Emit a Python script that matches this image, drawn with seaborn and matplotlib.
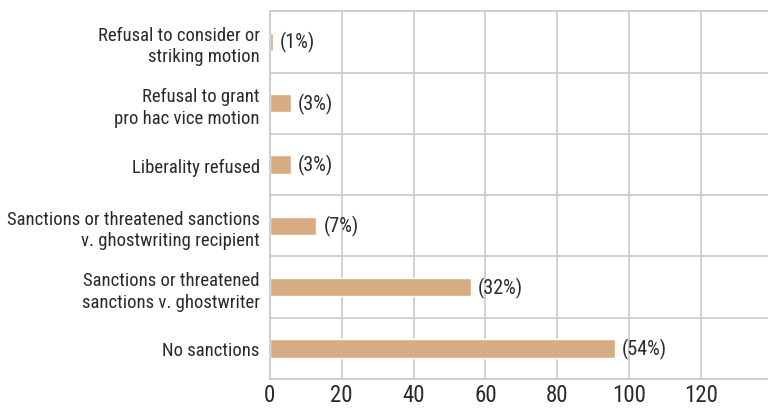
import matplotlib
matplotlib.use("Agg")
import matplotlib.pyplot as plt
import seaborn as sns
import pandas as pd

categories = [
    "Refusal to consider or\nstriking motion",
    "Refusal to grant\npro hac vice motion",
    "Liberality refused",
    "Sanctions or threatened sanctions\nv. ghostwriting recipient",
    "Sanctions or threatened\nsanctions v. ghostwriter",
    "No sanctions",
]
counts = [1, 6, 6, 13, 56, 96]
pct_labels = ["(1%)", "(3%)", "(3%)", "(7%)", "(32%)", "(54%)"]
x_ticks = [0, 20, 40, 60, 80, 100, 120]

sns.set_style("white")
plt.rcParams["font.family"] = ["Roboto Condensed", "Roboto", "DejaVu Sans"]

df = pd.DataFrame({"category": categories, "count": counts})

fig = plt.figure(figsize=(7.68, 4.10), dpi=100)
ax = fig.add_axes([0.351, 0.073, 0.649, 0.897])

sns.barplot(data=df, x="count", y="category", orient="h", color="#D8AC82",
            width=0.3, saturation=1, ax=ax)

ax.bar_label(ax.containers[0], labels=pct_labels, padding=5,
             fontsize=14.5, color="#2a2a2a")

ax.set_xlim(0, 138.5)
ax.set_ylim(len(categories) - 0.5, -0.5)
ax.set_xticks(x_ticks)
ax.set_yticks(range(len(categories)))
ax.set_yticks([i - 0.5 for i in range(len(categories) + 1)], minor=True)
ax.grid(axis="x", color="#C8C8C8", linewidth=1.2)
ax.grid(axis="y", which="minor", color="#C8C8C8", linewidth=1.2)
ax.set_axisbelow(True)
ax.tick_params(axis="y", which="both", length=0, labelsize=13.5,
               labelcolor="#2a2a2a", pad=7)
for lab in ax.get_yticklabels():
    lab.set_linespacing(1.25)
ax.tick_params(axis="x", length=0, labelsize=16.5, labelcolor="#2a2a2a", pad=3)
ax.set_xlabel("")
ax.set_ylabel("")
for side in ["left", "top", "bottom"]:
    ax.spines[side].set_color("#C8C8C8")
    ax.spines[side].set_linewidth(1.2)
ax.spines["right"].set_visible(False)

fig.savefig("out.png", dpi=100)
